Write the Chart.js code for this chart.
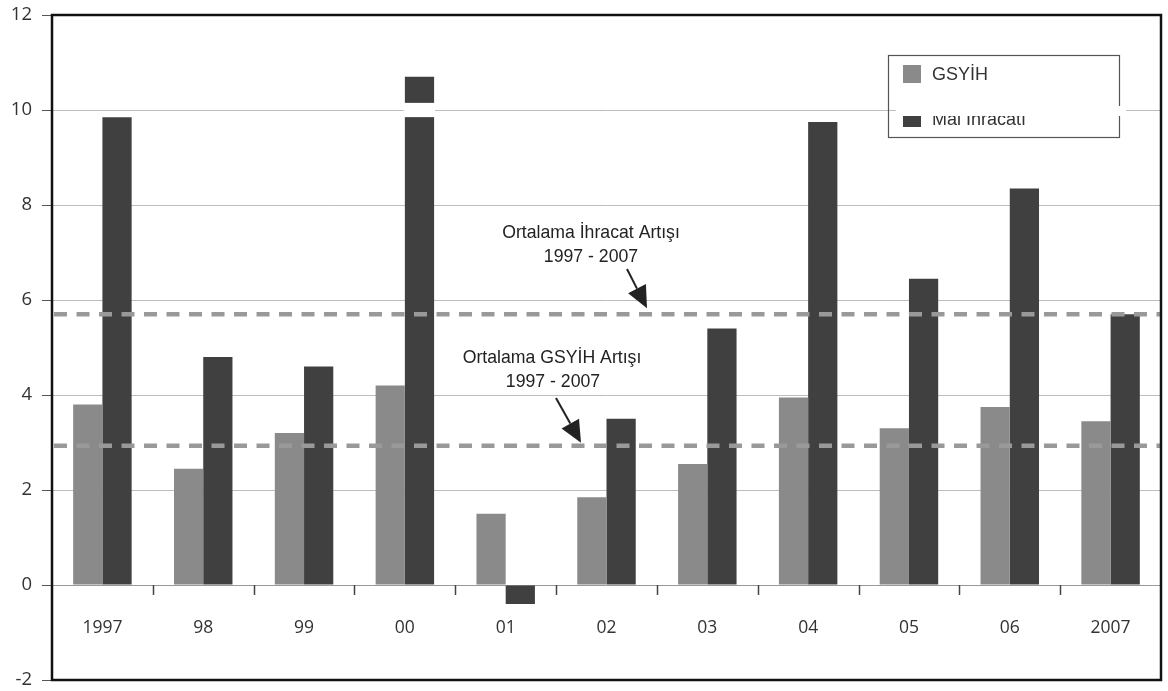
<!DOCTYPE html>
<html>
<head>
<meta charset="utf-8">
<script src="https://cdn.jsdelivr.net/npm/chart.js@4/dist/chart.umd.min.js"></script>
<style>
html,body{margin:0;padding:0;background:#fff;}
canvas{display:block;}
</style>
</head>
<body>
<canvas id="c" width="1168" height="691"></canvas>
<script>
const categories = ['1997','98','99','00','01','02','03','04','05','06','2007'];
const gsyih = [3.8, 2.45, 3.2, 4.2, 1.5, 1.85, 2.55, 3.95, 3.3, 3.75, 3.45];
const malIhracati = [9.85, 4.8, 4.6, 10.7, -0.4, 3.5, 5.4, 9.75, 6.45, 8.35, 5.7];
const avgIhracat = 5.7;
const avgGsyih = 2.93;
const yMin = -2, yMax = 12, yStep = 2;
const seriesNames = ['GSYİH', 'Mal İhracatı'];
const noteIhracat = ['Ortalama İhracat Artışı', '1997 - 2007'];
const noteGsyih = ['Ortalama GSYİH Artışı', '1997 - 2007'];

const colGsyih = '#8a8a8a';
const colMal = '#404040';

function arrow(ctx, x1, y1, x2, y2) {
  const ang = Math.atan2(y2 - y1, x2 - x1);
  const hl = 22, hw = 10;
  const bx = x2 - hl * Math.cos(ang), by = y2 - hl * Math.sin(ang);
  ctx.save();
  ctx.strokeStyle = '#222'; ctx.fillStyle = '#222'; ctx.lineWidth = 2;
  ctx.beginPath(); ctx.moveTo(x1, y1); ctx.lineTo(bx, by); ctx.stroke();
  ctx.beginPath();
  ctx.moveTo(x2, y2);
  ctx.lineTo(bx + hw * Math.sin(ang), by - hw * Math.cos(ang));
  ctx.lineTo(bx - hw * Math.sin(ang), by + hw * Math.cos(ang));
  ctx.closePath(); ctx.fill();
  ctx.restore();
}

function narrowText(ctx, txt, x, y) {
  ctx.save();
  ctx.translate(x, y);
  ctx.scale(0.93, 1);
  ctx.fillText(txt, 0, 0);
  ctx.restore();
}

const decor = {
  id: 'decor',
  beforeDatasetsDraw(chart) {
    const ctx = chart.ctx, xs = chart.scales.x, ys = chart.scales.y;
    const y0 = ys.getPixelForValue(0);
    ctx.save();
    ctx.strokeStyle = '#444'; ctx.lineWidth = 1.5;
    for (let i = 1; i < categories.length; i++) {
      const x = Math.round((xs.getPixelForValue(i - 1) + xs.getPixelForValue(i)) / 2) + 0.5;
      ctx.beginPath(); ctx.moveTo(x, y0); ctx.lineTo(x, y0 + 10); ctx.stroke();
    }
    ctx.fillStyle = '#333';
    ctx.font = '17.5px "Open Sans", sans-serif';
    ctx.textAlign = 'center'; ctx.textBaseline = 'middle';
    categories.forEach((c, i) => ctx.fillText(c, xs.getPixelForValue(i), y0 + 43));
    ctx.restore();
  },
  afterDatasetsDraw(chart) {
    const ctx = chart.ctx, xs = chart.scales.x, ys = chart.scales.y, a = chart.chartArea;
    // scan artefact on the 2000 export bar
    const bar = chart.getDatasetMeta(1).data[3];
    ctx.save();
    ctx.fillStyle = '#fff';
    const yb1 = ys.getPixelForValue(10.15), yb2 = ys.getPixelForValue(9.85);
    ctx.fillRect(bar.x - bar.width / 2 - 1, yb1, bar.width + 2, yb2 - yb1);
    // average lines
    ctx.strokeStyle = '#999'; ctx.lineWidth = 4.5; ctx.setLineDash([13, 9.5]);
    [avgIhracat, avgGsyih].forEach(v => {
      const y = ys.getPixelForValue(v);
      ctx.beginPath(); ctx.moveTo(a.left + 2, y); ctx.lineTo(a.right, y); ctx.stroke();
    });
    ctx.setLineDash([]);
    // notes
    ctx.fillStyle = '#222';
    ctx.font = '19px "Liberation Sans", Arial, sans-serif';
    ctx.textAlign = 'center'; ctx.textBaseline = 'middle';
    narrowText(ctx, noteIhracat[0], 591, 233);
    narrowText(ctx, noteIhracat[1], 591, 257);
    narrowText(ctx, noteGsyih[0], 552, 358);
    narrowText(ctx, noteGsyih[1], 553, 382);
    arrow(ctx, 627, 269, 647, ys.getPixelForValue(avgIhracat) - 6);
    arrow(ctx, 556, 398, 581, ys.getPixelForValue(avgGsyih) - 3);
    // legend
    ctx.strokeStyle = '#555'; ctx.lineWidth = 1.2;
    ctx.strokeRect(888.5, 55.5, 231, 82);
    ctx.fillStyle = colGsyih; ctx.fillRect(903, 65, 18, 18);
    ctx.fillStyle = colMal; ctx.fillRect(903, 110, 18, 17);
    ctx.fillStyle = '#333';
    ctx.font = '18px "Liberation Sans", Arial, sans-serif';
    ctx.textAlign = 'left';
    ctx.fillText(seriesNames[0], 932, 75);
    ctx.fillText(seriesNames[1], 932, 120);
    ctx.fillStyle = '#fff';
    ctx.fillRect(896, 106, 230, 10);
    // frame
    ctx.strokeStyle = '#111'; ctx.lineWidth = 2.5;
    ctx.strokeRect(a.left, a.top, a.right - a.left, a.bottom - a.top);
    ctx.restore();
  }
};

new Chart(document.getElementById('c'), {
  type: 'bar',
  data: {
    labels: categories,
    datasets: [
      { label: seriesNames[0], data: gsyih, backgroundColor: colGsyih, borderWidth: 0 },
      { label: seriesNames[1], data: malIhracati, backgroundColor: colMal, borderWidth: 0 }
    ]
  },
  options: {
    responsive: false,
    devicePixelRatio: 1,
    animation: false,
    layout: { padding: { left: 0, top: 15, right: 7, bottom: 11 } },
    datasets: { bar: { categoryPercentage: 0.58, barPercentage: 1.0 } },
    plugins: { legend: { display: false }, tooltip: { enabled: false } },
    scales: {
      x: { display: false },
      y: {
        min: yMin, max: yMax,
        afterFit(s) { s.width = 52; s.paddingTop = 0; s.paddingBottom = 0; },
        ticks: { stepSize: yStep, color: '#333', padding: 10, font: { family: 'Open Sans', size: 18.5 } },
        border: { display: false },
        grid: {
          tickLength: 10,
          tickColor: '#555',
          lineWidth: 1,
          color: c => (c.tick && c.tick.value === 0) ? '#999' :
                       (c.tick && (c.tick.value === yMin || c.tick.value === yMax)) ? 'rgba(0,0,0,0)' : '#bdbdbd'
        }
      }
    }
  },
  plugins: [decor]
});
</script>
</body>
</html>
